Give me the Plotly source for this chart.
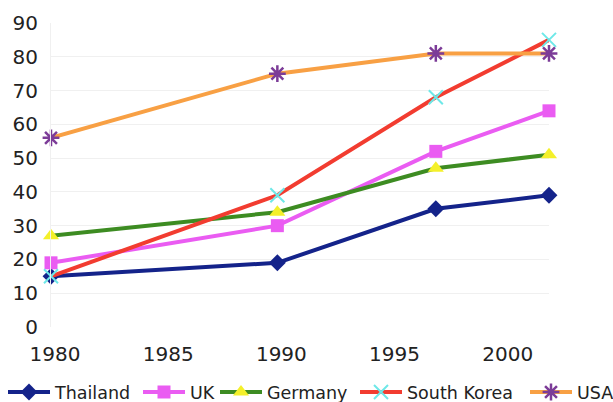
import plotly.graph_objects as go

years = [1980, 1990, 1997, 2002]
thailand = [15, 19, 35, 39]
uk = [19, 30, 52, 64]
germany = [27, 34, 47, 51]
south_korea = [15, 39, 68, 85]
usa = [56, 75, 81, 81]

x_ticks = [1980, 1985, 1990, 1995, 2000]
y_ticks = list(range(0, 100, 10))

# name, values, line colour, marker, legend slot
series = [
    ("Thailand", thailand, "#14238a", dict(symbol="diamond", size=13, color="#14238a"), "legend"),
    ("UK", uk, "#ea5cf2", dict(symbol="square", size=13, color="#ea5cf2"), "legend2"),
    ("Germany", germany, "#3d8c22", dict(symbol="triangle-up", size=14, color="#f4f02a"), "legend3"),
    ("South Korea", south_korea, "#f23c30",
     dict(symbol="x-thin", size=14, color="#6ee8e8", line=dict(width=2, color="#6ee8e8")), "legend4"),
    ("USA", usa, "#f8a044",
     dict(symbol="asterisk", size=14, color="#7c3c98", line=dict(width=2.5, color="#7c3c98")), "legend5"),
]

fig = go.Figure()
for name, vals, lc, mk, lg in series:
    fig.add_trace(go.Scatter(
        x=years, y=vals, name=name, mode="lines+markers",
        line=dict(color=lc, width=4), marker=mk, cliponaxis=False,
        legend=lg,
    ))

family = "DejaVu Sans, Verdana, sans-serif"
margin_l, margin_r = 51, 64
plot_w = 613 - margin_l - margin_r


def legend_at(px):
    # one-entry legend placed below the plot, left edge at px (page pixels)
    return dict(orientation="h", x=(px - margin_l) / plot_w, xanchor="left",
                y=-0.155, yanchor="top", bgcolor="rgba(0,0,0,0)",
                font=dict(family=family, size=17.5, color="#222222"),
                itemwidth=42, tracegroupgap=0)


fig.update_layout(
    width=613, height=402,
    margin=dict(l=margin_l, r=margin_r, t=23, b=75, autoexpand=False),
    paper_bgcolor="white", plot_bgcolor="white",
    font=dict(family=family, size=20, color="#222222"),
    showlegend=True,
    legend=legend_at(3),
    legend2=legend_at(138),
    legend3=legend_at(215),
    legend4=legend_at(355),
    legend5=legend_at(525),
    xaxis=dict(range=[1980, 2002], tickvals=x_ticks, showgrid=False, zeroline=False,
               showline=False, ticks="", ticklabelstandoff=13, ticklabelshift=4),
    yaxis=dict(range=[0, 90], tickvals=y_ticks, showgrid=True, gridcolor="#f0f0f0",
               gridwidth=1, zeroline=False, showline=True, linecolor="#f0f0f0",
               ticks="", ticklabelstandoff=8),
)

fig.write_html("out.html")
